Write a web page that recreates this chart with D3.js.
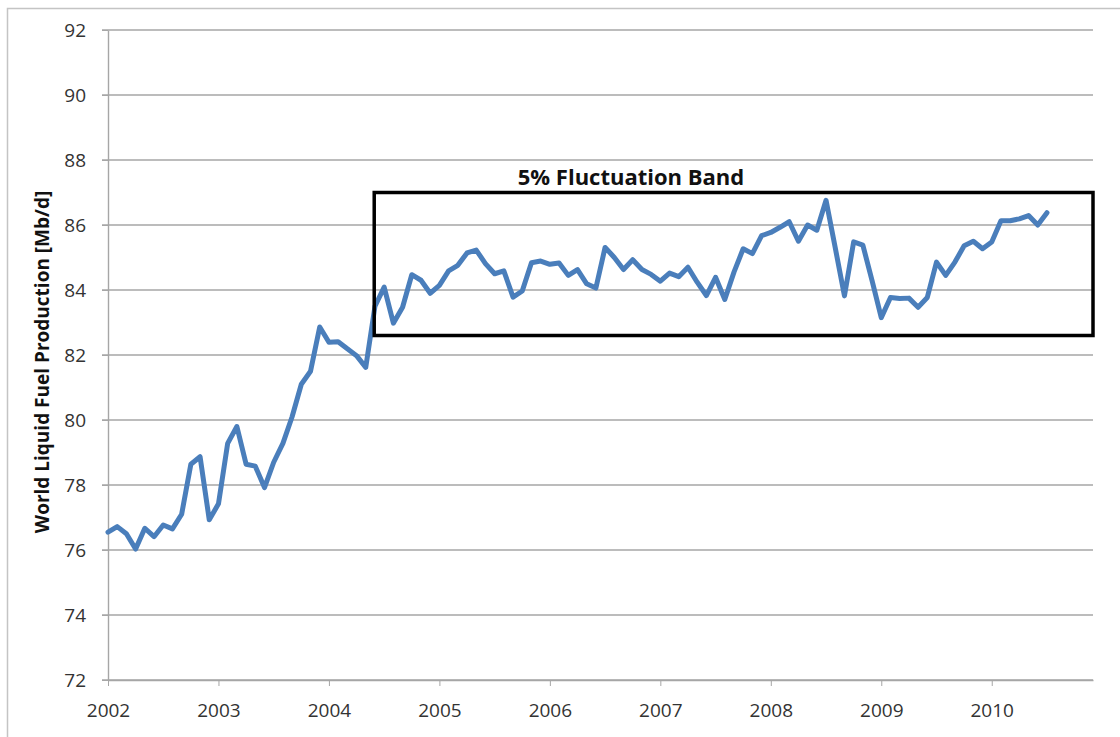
<!DOCTYPE html>
<html>
<head>
<meta charset="utf-8">
<script src="https://cdn.jsdelivr.net/npm/d3@7"></script>
<style>
  html, body { margin: 0; padding: 0; background: #fff; }
  svg { display: block; }
</style>
</head>
<body>
<svg id="chart" width="1120" height="737"></svg>
<script>
// ---- Data (monthly, Jan 2002 .. Jul 2010) ----
const startYear = 2002;
const production = [
  76.55, 76.72, 76.50, 76.03, 76.67, 76.41, 76.77, 76.65, 77.10, 78.64, 78.87, 76.93,
  77.42, 79.28, 79.80, 78.64, 78.58, 77.92, 78.70, 79.28, 80.10, 81.10, 81.50, 82.86,
  82.39, 82.41, 82.19, 81.98, 81.62, 83.50, 84.09, 82.98, 83.47, 84.47, 84.30, 83.90,
  84.14, 84.59, 84.76, 85.14, 85.23, 84.81, 84.50, 84.59, 83.78, 83.97, 84.84, 84.89,
  84.79, 84.83, 84.45, 84.63, 84.19, 84.06, 85.31, 85.00, 84.63, 84.93, 84.63, 84.48,
  84.27, 84.52, 84.41, 84.70, 84.24, 83.83, 84.39, 83.71, 84.55, 85.27, 85.12, 85.67,
  85.77, 85.93, 86.10, 85.50, 86.00, 85.84, 86.76, 85.30, 83.82, 85.48, 85.38, 84.29,
  83.15, 83.77, 83.74, 83.75, 83.47, 83.77, 84.86, 84.45, 84.86, 85.36, 85.50, 85.27,
  85.48, 86.13, 86.13, 86.19, 86.29, 86.00, 86.38
];
const yearTicks = [2002, 2003, 2004, 2005, 2006, 2007, 2008, 2009, 2010];
const yTicks = [72, 74, 76, 78, 80, 82, 84, 86, 88, 90, 92];
const xDomain = [2002, 2010 + 11 / 12];
const yDomain = [72, 92];
// Fluctuation band box [x0, x1] in years, [y0, y1] in Mb/d
const bandX = [2004.41, 2010 + 11 / 12];
const bandY = [82.6, 87.0];
const bandLabel = "5% Fluctuation Band";
const yLabel = "World Liquid  Fuel Production  [Mb/d]";

const series = production.map((v, i) => ({ t: startYear + i / 12, v }));

// ---- Layout ----
const svg = d3.select("#chart");
const m = { left: 108, top: 30, right: 1120 - 1093, bottom: 737 - 680 };
const W = 1120, H = 737;
const x = d3.scaleLinear().domain(xDomain).range([m.left, W - m.right]);
const y = d3.scaleLinear().domain(yDomain).range([H - m.bottom, m.top]);
const font = "'Open Sans', 'Noto Sans', sans-serif";

// outer chart border
svg.append("rect")
  .attr("x", 7.5).attr("y", 8.5)
  .attr("width", 1130).attr("height", 750)
  .attr("fill", "#fff").attr("stroke", "#c4c4c4").attr("stroke-width", 1.5);

// gridlines
svg.append("g")
  .selectAll("line")
  .data(yTicks)
  .join("line")
  .attr("x1", m.left - 6).attr("x2", W - m.right)
  .attr("y1", d => y(d)).attr("y2", d => y(d))
  .attr("stroke", "#a6a6a6").attr("stroke-width", 1.4);

// y axis
const yAxis = svg.append("g")
  .attr("transform", `translate(${m.left},0)`)
  .call(d3.axisLeft(y).tickValues(yTicks).tickSize(6).tickSizeOuter(0).tickPadding(16).tickFormat(d3.format("d")));
yAxis.select(".domain").attr("stroke", "#a6a6a6").attr("stroke-width", 1.4);
yAxis.selectAll(".tick line").attr("stroke", "#a6a6a6");
yAxis.selectAll("text")
  .attr("font-family", font)
  .attr("font-size", 19).attr("fill", "#333");

// x axis
const xAxis = svg.append("g")
  .attr("transform", `translate(0,${H - m.bottom})`)
  .call(d3.axisBottom(x).tickValues(yearTicks).tickSize(6).tickSizeOuter(0).tickPadding(18).tickFormat(d3.format("d")));
xAxis.select(".domain").attr("stroke", "#a6a6a6").attr("stroke-width", 1.4);
xAxis.selectAll(".tick line").attr("stroke", "#a6a6a6");
xAxis.selectAll("text")
  .attr("font-family", font)
  .attr("font-size", 19).attr("fill", "#333");

// series line
svg.append("path")
  .datum(series)
  .attr("fill", "none")
  .attr("stroke", "#4a7ebb")
  .attr("stroke-width", 5)
  .attr("stroke-linejoin", "round")
  .attr("stroke-linecap", "round")
  .attr("d", d3.line().x(d => x(d.t)).y(d => y(d.v)));

// fluctuation band box
svg.append("rect")
  .attr("x", x(bandX[0])).attr("y", y(bandY[1]))
  .attr("width", x(bandX[1]) - x(bandX[0]))
  .attr("height", y(bandY[0]) - y(bandY[1]))
  .attr("fill", "none").attr("stroke", "#000").attr("stroke-width", 3.5);

svg.append("text")
  .attr("x", 631).attr("y", 185)
  .attr("text-anchor", "middle")
  .attr("font-family", font)
  .attr("font-weight", "bold").attr("font-size", 22).attr("fill", "#111")
  .text(bandLabel);

// y label
svg.append("text")
  .attr("transform", `translate(49,${362}) rotate(-90)`)
  .attr("text-anchor", "middle")
  .attr("font-family", font)
  .attr("font-weight", "bold").attr("font-size", 19).attr("fill", "#111")
  .text(yLabel);
</script>
</body>
</html>
